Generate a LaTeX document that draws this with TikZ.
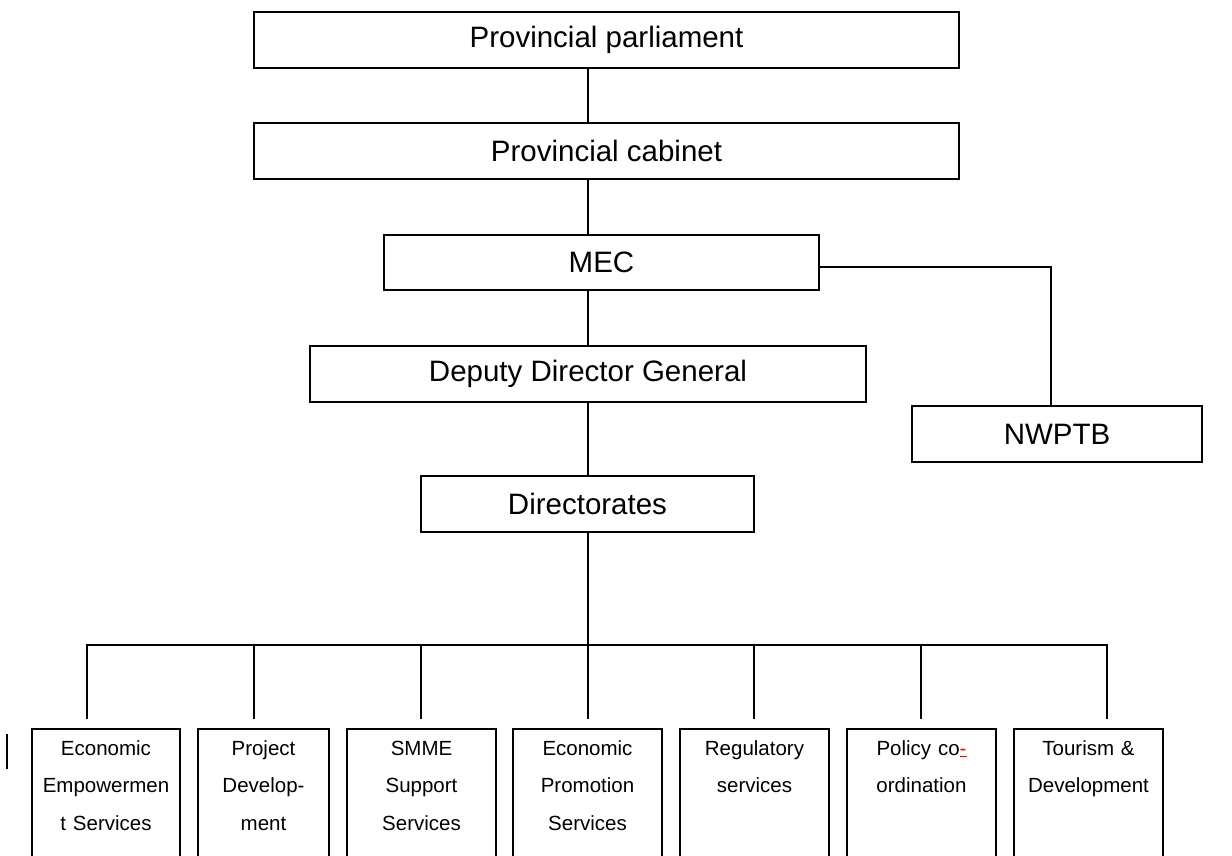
\documentclass[tikz,border=0pt]{standalone}
\usepackage{fontspec}
\setmainfont{Liberation Sans}
\usepackage{xcolor}

\begin{document}
\begin{tikzpicture}[x=1pt, y=-1pt,
    office/.style={draw, line width=2pt, inner sep=0pt, minimum height=56pt,
      font=\fontsize{29.5}{34}\selectfont},
    unit/.style={draw, line width=2pt, anchor=north, align=center,
      text width=149pt, minimum width=149pt, inner xsep=0pt, inner ysep=11pt,
      text height=15pt, text depth=110pt, font=\fontsize{20.5}{37.5}\selectfont},
    link/.style={line width=2pt}]
   \useasboundingbox (0,0) rectangle (1232,855);
   \clip (0,0) rectangle (1232,855);

   % upper chain
   \node[office, minimum width=705pt] (parl) at (606.5,40) {Provincial parliament};
   \node[office, minimum width=705pt] (cab) at (606.5,151) {Provincial cabinet};
   \node[office, minimum width=435pt, minimum height=55pt] (mec) at (601.5,262.5) {MEC};
   \node[office, minimum width=556pt] (ddg) at (588,374) {Deputy Director General};
   \node[office, minimum width=290pt] (nwptb) at (1057,434) {NWPTB};
   \node[office, minimum width=333pt] (dir) at (587.5,504) {Directorates};

   \coordinate (spine) at (588,0);
   \draw[link] (parl.south -| spine) -- (cab.north -| spine);
   \draw[link] (cab.south -| spine) -- (mec.north -| spine);
   \draw[link] (mec.south -| spine) -- (ddg.north -| spine);
   \draw[link] (ddg.south -| spine) -- (dir.north -| spine);
   \draw[link] ([yshift=-4.5pt]mec.east) -| ([xshift=-6pt]nwptb.north);

   % directorates
   \node[unit, text width=148pt, minimum width=148pt] (e1) at (106,728) {Economic\\Empowermen\\t Services};
   \node[unit, text width=131pt, minimum width=131pt] (e2) at (263.5,728) {Project\\Develop-\\ment};
   \node[unit] (e3) at (421.5,728) {SMME\\Support\\Services};
   \node[unit] (e4) at (587.5,728) {Economic\\Promotion\\Services};
   \node[unit] (e5) at (754.5,728) {Regulatory\\services};
   \node[unit] (e6) at (921.5,728) {Policy co\textcolor{red}{\underline{-}}\\ordination};
   \node[unit] (e7) at (1088.5,728) {Tourism \&\\Development};

   \coordinate (b1) at (87,645);
   \coordinate (b2) at (254,645);
   \coordinate (b3) at (421,645);
   \coordinate (b4) at (588,645);
   \coordinate (b5) at (754,645);
   \coordinate (b6) at (921,645);
   \coordinate (b7) at (1107,645);

   \draw[link] (dir.south -| spine) -- (b4);
   \draw[link] ([yshift=9pt]e1.north -| b1) -- (b1) -- (b7) -- ([yshift=9pt]e7.north -| b7);
   \draw[link] (b2) -- ([yshift=9pt]e2.north -| b2);
   \draw[link] (b3) -- ([yshift=9pt]e3.north -| b3);
   \draw[link] (b4) -- ([yshift=9pt]e4.north -| b4);
   \draw[link] (b5) -- ([yshift=9pt]e5.north -| b5);
   \draw[link] (b6) -- ([yshift=9pt]e6.north -| b6);

   % stray mark at the left
   \draw[line width=1.3pt] (7,734) -- (7,769);
\end{tikzpicture}
\end{document}
